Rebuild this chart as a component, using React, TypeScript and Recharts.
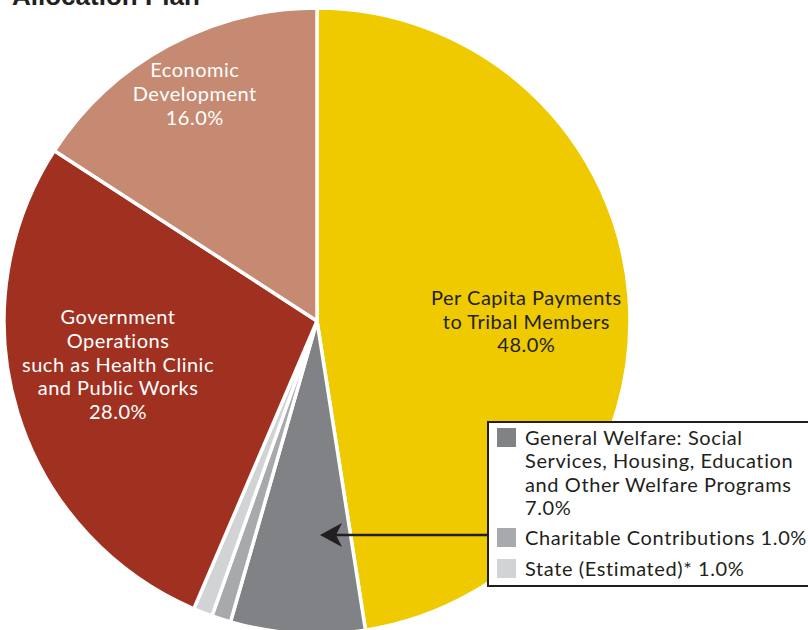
import React from 'react';
import { PieChart, Pie, Cell, Legend } from 'recharts';

const categories = [
  'Per Capita Payments to Tribal Members',
  'General Welfare: Social Services, Housing, Education and Other Welfare Programs',
  'Charitable Contributions',
  'State (Estimated)*',
  'Government Operations such as Health Clinic and Public Works',
  'Economic Development',
];
const values = [48, 7, 1, 1, 28, 16];
const sliceLabelLines: (string[] | null)[] = [
  ['Per Capita Payments', 'to Tribal Members'],
  null,
  null,
  null,
  ['Government', 'Operations', 'such as Health Clinic', 'and Public Works'],
  ['Economic', 'Development'],
];
const legendLines: (string[] | null)[] = [
  null,
  ['General Welfare: Social', 'Services, Housing, Education', 'and Other Welfare Programs'],
  ['Charitable Contributions'],
  ['State (Estimated)*'],
  null,
  null,
];
const title = 'Allocation Plan';

const colors = ['#EFCA00', '#808285', '#A7A9AC', '#D1D3D4', '#A03121', '#C68A72'];
const labelColors = ['#231F20', '#fff', '#fff', '#fff', '#fff', '#fff'];
const labelRadius = [210, 0, 0, 0, 208, 256];
const labelNudgeY = [16, 0, 0, 0, -18, -3];

const data = categories.map((name, i) => ({ name, value: values[i] }));
const pct = (v: number) => `${v.toFixed(1)}%`;

const FONT = 'Lato, "Open Sans", sans-serif';
const LH = 23.8;
const FS = 20;
const LS = 0.5;

const renderLabel = (props: any) => {
  const { cx, cy, midAngle, index, value } = props;
  const lines = sliceLabelLines[index];
  if (!lines) return null;
  const all = [...lines, pct(value)];
  const RAD = Math.PI / 180;
  const r = labelRadius[index];
  const x = cx + r * Math.cos(-midAngle * RAD);
  const y = cy + r * Math.sin(-midAngle * RAD) + labelNudgeY[index];
  const y0 = y - ((all.length - 1) / 2) * LH;
  return (
    <text
      x={x}
      y={y0}
      textAnchor="middle"
      dominantBaseline="central"
      fill={labelColors[index]}
      fontSize={FS}
      fontFamily={FONT}
      letterSpacing={LS}
    >
      {all.map((l, k) => (
        <tspan key={k} x={x} y={y0 + k * LH}>
          {l}
        </tspan>
      ))}
    </text>
  );
};

const renderLegend = () => {
  const rows = data
    .map((d, i) => ({ ...d, i }))
    .filter((d) => legendLines[d.i]);
  return (
    <div
      style={{
        border: '2px solid #231F20',
        background: '#fff',
        padding: '3px 0 4px 8px',
        width: 340,
        boxSizing: 'border-box',
        fontFamily: FONT,
        fontSize: FS,
        letterSpacing: 0.6,
        lineHeight: '23.3px',
        color: '#231F20',
        textAlign: 'left',
      }}
    >
      {rows.map((d, k) => {
        const lines = legendLines[d.i] as string[];
        const multi = lines.length > 1;
        return (
          <div key={d.i} style={{ display: 'flex', alignItems: 'flex-start', marginTop: k === 0 ? 0 : k === 1 ? 7 : 8 }}>
            <div style={{ width: 19, height: 19, background: colors[d.i], marginTop: 2, flexShrink: 0 }} />
            <div style={{ marginLeft: 9, whiteSpace: 'nowrap' }}>
              {multi ? (
                <>
                  {lines.map((l, j) => (
                    <div key={j}>{l}</div>
                  ))}
                  <div>{pct(d.value)}</div>
                </>
              ) : (
                <div>{`${lines[0]} ${pct(d.value)}`}</div>
              )}
            </div>
          </div>
        );
      })}
    </div>
  );
};

export default function App() {
  return (
    <div style={{ position: 'absolute', left: 0, top: 0, width: 808, height: 630, overflow: 'hidden', background: '#fff' }}>
      <div
        style={{
          position: 'absolute',
          left: 12,
          top: -19,
          fontFamily: '"Liberation Sans", Arial, sans-serif',
          fontWeight: 'bold',
          fontSize: 26,
          color: '#231F20',
          whiteSpace: 'nowrap',
        }}
      >
        {title}
      </div>
      <PieChart width={808} height={630} margin={{ top: 0, right: 0, bottom: 0, left: 0 }}>
        <Pie
          data={data}
          dataKey="value"
          nameKey="name"
          cx={317}
          cy={321}
          outerRadius={313}
          startAngle={90}
          endAngle={-270}
          stroke="#fff"
          strokeWidth={3.5}
          label={renderLabel}
          labelLine={false}
          isAnimationActive={false}
        >
          {data.map((d, i) => (
            <Cell key={d.name} fill={colors[i]} />
          ))}
        </Pie>
        <Legend
          content={renderLegend}
          layout="horizontal"
          verticalAlign="middle"
          align="center"
          wrapperStyle={{ left: 487, top: 421, width: 340, bottom: 'auto', right: 'auto' }}
        />
      </PieChart>
      <svg
        width={808}
        height={630}
        style={{ position: 'absolute', left: 0, top: 0, pointerEvents: 'none' }}
      >
        <line x1={336} y1={535} x2={487} y2={535} stroke="#231F20" strokeWidth={2.5} />
        <polygon points="320,535 342,523 336,535 342,547" fill="#231F20" />
      </svg>
    </div>
  );
}
